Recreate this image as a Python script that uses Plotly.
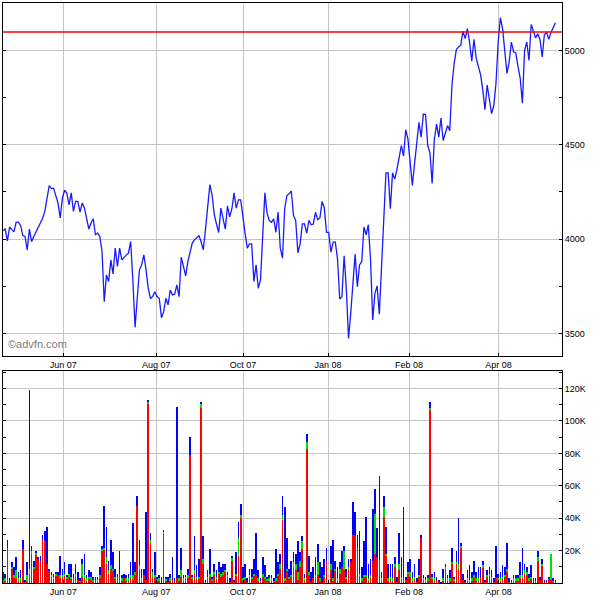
import plotly.graph_objects as go

# Closing prices, one per trading day
price = [
    4046, 4053, 3991, 4064, 4050, 4039, 4090, 4090, 4071, 4019,
    4014, 3943, 4053, 3986, 4014, 4040, 4064, 4085, 4110, 4147,
    4210, 4284, 4268, 4270, 4230, 4191, 4112, 4218, 4259, 4244,
    4182, 4245, 4147, 4200, 4200, 4143, 4191, 4165, 4110, 4053,
    4085, 4108, 4023, 4031, 4014, 3934,
    3668, 3810, 3775, 3890, 3815, 3952, 3855, 3952, 3890, 3905,
    3915, 3925, 3987, 3784, 3532,
    3686, 3837, 3863, 3916, 3837, 3739, 3686, 3695, 3721, 3695,
    3686, 3583, 3615, 3686, 3651, 3730, 3704, 3708, 3757,
    3695, 3904, 3855, 3805, 3880, 3930, 3979, 3996, 4005, 4018,
    3987, 3943, 4050, 4174, 4289,
    4235, 4129, 4080, 4035, 4164, 4098, 4053, 4176, 4118, 4161,
    4245, 4164, 4208, 4208, 4107, 4030, 3952, 3975, 3975, 3775,
    3863, 3739, 3784, 3996, 4245,
    4138, 4098, 4089, 4107, 4036, 4143, 3952, 3899, 4161, 4231,
    4240, 4255, 4126, 4098, 3927, 3975,
    4081, 4081, 4032, 4099, 4076, 4080, 4142, 4103, 4112, 4200,
    4165, 4036, 4036, 3931, 3984, 3984, 3894, 3682, 3695, 3911,
    3739, 3473,
    3606, 3784, 3920, 3748, 3863, 3880, 4064, 4023, 4076, 3890,
    3571, 3712, 3752, 3601, 3837, 4067, 4351,
    4351, 4161, 4351, 4318, 4370, 4440, 4496, 4440, 4580, 4530,
    4423, 4285, 4399, 4528, 4619, 4541, 4663, 4660, 4496, 4457,
    4295, 4528, 4610, 4541, 4642, 4523, 4559, 4602, 4575, 4817,
    4932, 5005, 5019, 5028, 5103, 5063, 5116, 5045, 4944, 5059,
    4960, 4916, 4872, 4791, 4686, 4817, 4741, 4665, 4707, 4825,
    5045, 5174, 5116, 4993, 4879, 4940, 5045, 4993, 4987, 4916,
    4854, 4721, 5000, 5045, 4947, 5138, 5106, 5067, 5088, 5059,
    4966, 5085, 5096, 5059, 5096, 5124, 5147,
]

# Volume per day in thousands, split in three stacked parts
vol_red = [
    1, 2, 22, 1, 9, 3, 3, 2, 2, 21,
    1, 1, 6, 18, 9, 18, 15, 14, 27, 26,
    12, 8, 4, 3, 5, 5, 3, 4, 5, 3,
    4, 3, 3, 4, 2, 1, 4, 3, 2, 3,
    2, 1, 2, 1, 3, 20, 21, 12, 6, 9,
    8, 3, 4, 6, 2, 3, 2, 2, 3, 2,
    5, 48, 8, 2, 5, 2, 111, 25, 4, 3,
    2, 2, 1, 31, 2, 1, 2, 2, 1, 3,
    2, 4, 2, 3, 3, 79, 3, 6, 3, 3,
    108, 12, 1, 3, 4, 2, 5, 3, 6, 4,
    5, 7, 4, 1, 14, 1, 5, 17, 40, 2,
    3, 1, 4, 3, 5, 5, 2, 1, 4, 3,
    2, 2, 2, 1, 2, 5, 9, 39, 2, 8,
    3, 4, 10, 8, 2, 10, 21, 2, 83, 5,
    1, 3, 4, 5, 2, 1, 4, 14, 0, 8,
    2, 8, 2, 6, 10, 8, 3, 9, 13, 30,
    30, 22, 5, 2, 4, 4, 2, 3, 14, 18,
    16, 15, 2, 41, 17, 2, 3, 2, 10, 1,
    8, 3, 3, 2, 6, 4, 2, 3, 1, 4,
    28, 2, 1, 2, 107, 3, 2, 2, 1, 0,
    2, 9, 2, 2, 12, 2, 12, 9, 22, 2,
    1, 2, 1, 2, 3, 2, 2, 3, 10, 1,
    4, 5, 3, 1, 4, 2, 2, 3, 4, 7,
    1, 1, 2, 2, 2, 3, 3, 6, 5, 2,
    3, 2, 2, 14, 2, 11, 1, 1, 3, 2,
    1, 1,
]
vol_green = [
    1, 1, 0, 0, 1, 2, 5, 1, 1, 0,
    0, 4, 3, 2, 1, 1, 0, 0, 0, 0,
    0, 0, 1, 1, 1, 0, 2, 1, 1, 1,
    2, 1, 0, 2, 0, 1, 8, 2, 1, 1,
    2, 1, 0, 1, 2, 1, 1, 4, 2, 2,
    1, 1, 0, 0, 1, 0, 1, 1, 2, 3,
    2, 0, 3, 1, 0, 0, 1, 2, 3, 2,
    1, 1, 0, 1, 1, 0, 1, 0, 0, 0,
    1, 4, 1, 1, 2, 0, 1, 2, 1, 1,
    3, 3, 0, 1, 2, 1, 2, 1, 1, 2,
    2, 1, 1, 0, 2, 0, 1, 11, 2, 1,
    1, 0, 1, 1, 1, 0, 1, 1, 2, 1,
    1, 1, 1, 1, 1, 1, 3, 3, 1, 1,
    1, 1, 3, 4, 5, 4, 5, 1, 4, 2,
    0, 0, 1, 8, 1, 0, 1, 0, 0, 4,
    1, 1, 1, 3, 0, 12, 1, 1, 0, 0,
    0, 0, 1, 1, 1, 1, 1, 2, 0, 25,
    0, 0, 1, 6, 1, 1, 1, 1, 2, 0,
    4, 1, 0, 0, 1, 3, 1, 1, 0, 1,
    0, 1, 1, 1, 1, 1, 1, 0, 0, 0,
    1, 1, 1, 1, 1, 1, 1, 3, 1, 0,
    0, 1, 1, 1, 2, 1, 1, 0, 1, 0,
    1, 1, 1, 0, 0, 1, 1, 1, 1, 2,
    0, 0, 1, 1, 1, 2, 2, 2, 2, 1,
    1, 0, 0, 2, 0, 1, 0, 0, 0, 16,
    1, 0,
]
vol_blue = [
    5, 3, 5, 2, 3, 5, 8, 4, 5, 6,
    1, 8, 110, 3, 4, 1, 1, 3, 3, 6,
    23, 1, 2, 2, 1, 2, 12, 4, 7, 1,
    6, 8, 3, 6, 5, 1, 3, 13, 2, 4,
    3, 2, 2, 2, 5, 2, 26, 19, 6, 16,
    10, 5, 2, 14, 2, 3, 2, 3, 8, 32,
    6, 6, 16, 6, 4, 42, 1, 4, 2, 14,
    1, 2, 3, 1, 1, 3, 3, 14, 2, 106,
    2, 14, 2, 1, 4, 11, 1, 21, 7, 11,
    1, 14, 1, 4, 15, 1, 5, 4, 6, 4,
    5, 4, 2, 2, 1, 1, 13, 10, 7, 7,
    8, 2, 4, 5, 9, 26, 5, 1, 10, 7,
    1, 2, 2, 1, 18, 7, 6, 12, 44, 19,
    5, 9, 6, 6, 19, 5, 3, 3, 5, 10,
    6, 7, 11, 11, 10, 9, 10, 8, 0, 11,
    24, 5, 7, 4, 10, 3, 5, 5, 2, 20,
    14, 8, 26, 7, 21, 36, 9, 10, 32, 15,
    18, 51, 4, 7, 17, 9, 8, 9, 4, 3,
    19, 12, 44, 2, 6, 8, 4, 8, 2, 10,
    2, 2, 2, 2, 4, 2, 4, 2, 1, 1,
    6, 2, 2, 5, 9, 1, 7, 28, 2, 4,
    1, 5, 9, 4, 9, 4, 7, 7, 3, 1,
    3, 4, 4, 2, 19, 3, 4, 7, 5, 16,
    2, 1, 2, 2, 2, 8, 17, 4, 3, 3,
    7, 1, 1, 4, 2, 3, 1, 1, 1, 0,
    1, 1,
]

# Month labels and the trading-day index where each sits
month_labels = ["Jun 07", "Aug 07", "Oct 07", "Jan 08", "Feb 08", "Apr 08"]
month_days = [27.4, 69.6, 109.1, 147.7, 184.5, 225.1]

price_ticks = [3500, 4000, 4500, 5000]
vol_ticks = [20, 40, 60, 80, 100, 120]
vol_tick_labels = ["20K", "40K", "60K", "80K", "100K", "120K"]
ref_level = 5098

n = len(price)
assert len(vol_red) == n and len(vol_green) == n and len(vol_blue) == n
days = list(range(n))

FONT = "Liberation Sans, Arial, sans-serif"
GRID = "#c4c4c4"

fig = go.Figure()
fig.add_trace(go.Scatter(x=days, y=price, mode="lines",
                         line=dict(color="#1a1aff", width=1.3),
                         xaxis="x", yaxis="y", showlegend=False))
for vals, col in [(vol_red, "#ff0000"), (vol_green, "#00e000"), (vol_blue, "#0000ff")]:
    fig.add_trace(go.Bar(x=days, y=vals, marker=dict(color=col, line=dict(width=0)),
                         width=0.3, xaxis="x2", yaxis="y2", showlegend=False))

xr = [0, 254]
common_x = dict(range=xr, tickvals=month_days, ticktext=month_labels,
                showgrid=True, gridcolor=GRID, gridwidth=1,
                showline=True, linecolor="black", linewidth=1, mirror=True,
                ticks="inside", ticklen=3, tickcolor="black",
                tickfont=dict(family=FONT, size=9, color="black"), zeroline=False)

fig.update_layout(
    width=600, height=600,
    margin=dict(l=3, r=38, t=3, b=17),
    paper_bgcolor="white", plot_bgcolor="white",
    barmode="stack", bargap=0,
    xaxis=dict(domain=[0, 1], anchor="y", **common_x),
    xaxis2=dict(domain=[0, 1], anchor="y2", **common_x),
    yaxis=dict(domain=[0.3914, 1], anchor="x", side="right", range=[3380, 5252],
               tickvals=price_ticks, showgrid=True, gridcolor=GRID,
               showline=True, linecolor="black", linewidth=1, mirror="ticks",
               ticks="inside", ticklen=3, tickcolor="black", zeroline=False,
               minor=dict(dtick=250, tick0=0, ticks="inside", ticklen=3,
                          tickcolor="black", showgrid=False),
               tickfont=dict(family=FONT, size=9, color="black")),
    yaxis2=dict(domain=[0, 0.366], anchor="x2", side="right", range=[0, 131],
                tickvals=vol_ticks, ticktext=vol_tick_labels,
                showgrid=True, gridcolor=GRID,
                showline=True, linecolor="black", linewidth=1, mirror="ticks",
                ticks="inside", ticklen=3, tickcolor="black", zeroline=False,
                minor=dict(dtick=10, tick0=0, ticks="inside", ticklen=3,
                           tickcolor="black", showgrid=False),
                tickfont=dict(family=FONT, size=9, color="black")),
    shapes=[dict(type="line", xref="x domain", yref="y", x0=0, x1=1,
                 y0=ref_level, y1=ref_level, line=dict(color="#ff0000", width=1.5))],
    annotations=[dict(text="©advfn.com", xref="x domain", yref="y domain",
                      x=0.006, y=0.012, xanchor="left", yanchor="bottom",
                      showarrow=False,
                      font=dict(family=FONT, size=11, color="#7a7a7a"))],
)

fig.write_html("out.html", config={"displayModeBar": False})

# remove the browser's default page margin so the figure sits at (0, 0)
with open("out.html", "r", encoding="utf-8") as f:
    html = f.read()
html = html.replace("<head>", "<head><style>html,body{margin:0;padding:0;overflow:hidden}</style>", 1)
with open("out.html", "w", encoding="utf-8") as f:
    f.write(html)
